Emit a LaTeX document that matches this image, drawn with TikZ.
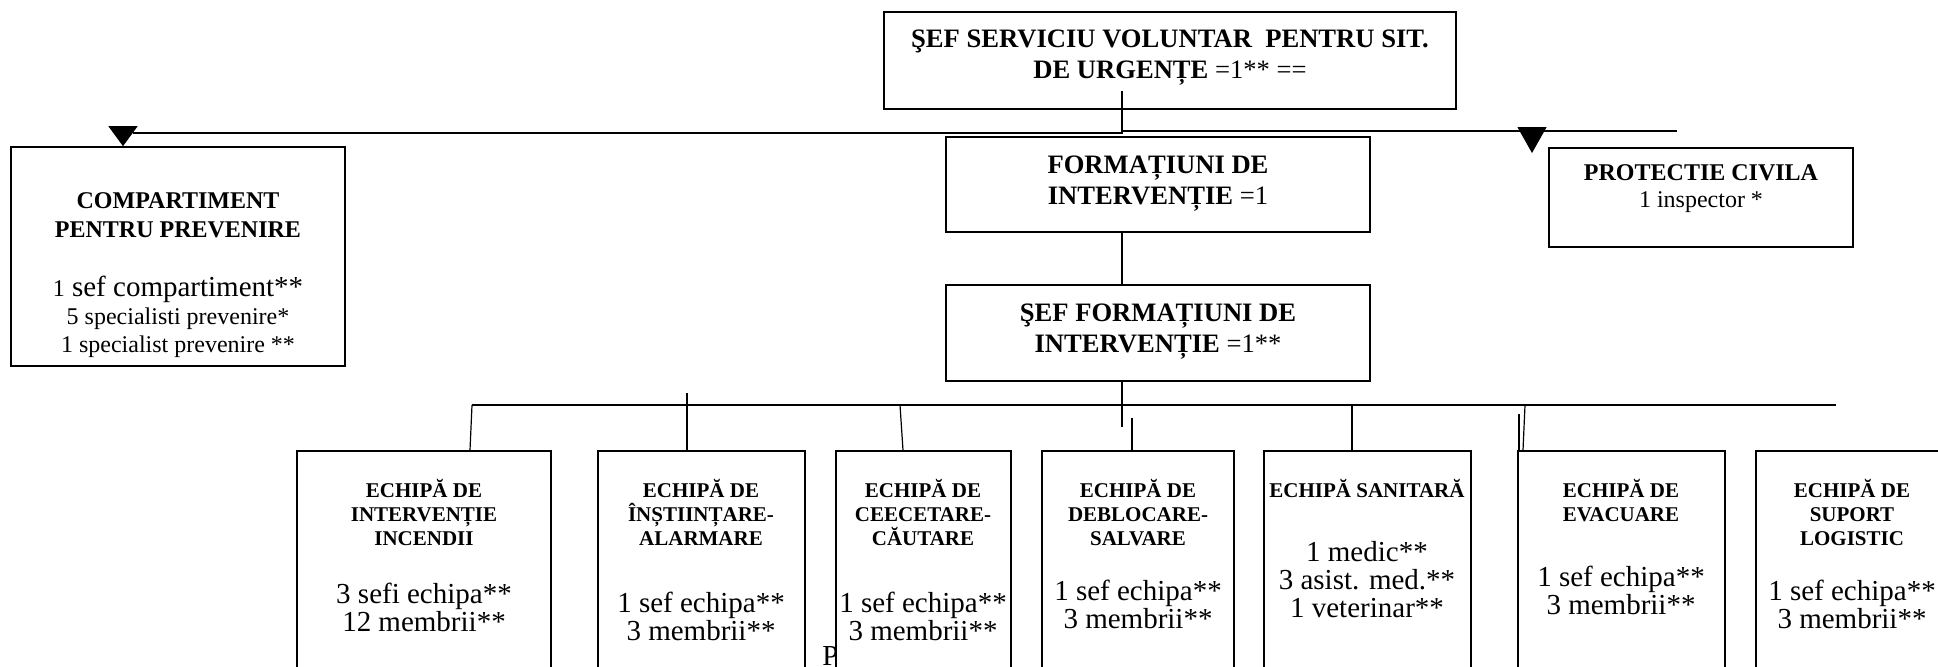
\documentclass[tikz,border=0pt]{standalone}
\usepackage{fontspec}
\setmainfont{Liberation Serif}
\usetikzlibrary{arrows.meta, positioning, fit}

\begin{document}
\begin{tikzpicture}[x=0.5pt, y=-0.5pt,
	box/.style={draw, line width=0.8pt, fill=white, inner sep=0pt},
	link/.style={line width=0.6pt},
	drop/.style={link, -{Triangle[width=14.5pt, length=#1]}},
	bighead/.style={anchor=base, align=center, inner sep=0pt, font=\fontsize{13.3}{15.5}\selectfont},
	head/.style={anchor=base, align=center, inner sep=0pt, font=\fontsize{12}{14.5}\selectfont},
	teamhead/.style={anchor=base, align=center, inner sep=0pt, font=\bfseries\fontsize{10.5}{12}\selectfont},
	members/.style={anchor=base, align=center, inner sep=0pt, font=\fontsize{14.5}{14}\selectfont}]
	\useasboundingbox (0,0) rectangle (1938,666);
	\clip (0,0) rectangle (1938,666);

	\node[members, anchor=base west] (stray) at (822,665) {P};

	\node[box, fit={(884,12) (1456,109)}] (sefsvsu) {};
	\node[box, fit={(11,147) (345,366)}] (prev) {};
	\node[box, fit={(946,137) (1370,232)}] (form) {};
	\node[box, fit={(946,285) (1370,381)}] (sefform) {};
	\node[box, fit={(1549,148) (1853,247)}] (pc) {};
	\node[box, fit={(297,451) (551,720)}] (incendii) {};
	\node[box, fit={(598,451) (805,720)}] (alarm) {};
	\node[box, fit={(836,451) (1011,720)}] (cautare) {};
	\node[box, fit={(1042,451) (1234,720)}] (salvare) {};
	\node[box, fit={(1264,451) (1471,720)}] (sanitara) {};
	\node[box, fit={(1518,451) (1725,720)}] (evac) {};
	\node[box, fit={(1756,451) (1948,720)}] (logistic) {};

	\node[bighead] (sefsvsu-t) at (1170,78) {\textbf{ŞEF SERVICIU VOLUNTAR\ \ PENTRU SIT.}\\\textbf{DE URGENȚE} =1** ==};
	\node[bighead] (form-t) at (1158,204) {\textbf{FORMAȚIUNI DE}\\\textbf{INTERVENȚIE} =1};
	\node[bighead] (sefform-t) at (1158,352) {\textbf{ŞEF FORMAȚIUNI DE}\\\textbf{INTERVENȚIE} =1**};
	\node[head, font=\bfseries\fontsize{12}{14.5}\selectfont] (prev-t) at (178,237) {COMPARTIMENT\\PENTRU PREVENIRE};
	\node[members] (prev-m1) at (178,296) {{\fontsize{12}{14}\selectfont 1} sef compartiment**};
	\node[head, font=\fontsize{12}{14}\selectfont] (prev-m2) at (178,352) {5 specialisti prevenire*\\1 specialist prevenire **};
	\node[head, font=\fontsize{12}{13.5}\selectfont] (pc-t) at (1701,207) {\textbf{PROTECTIE CIVILA}\\1 inspector *};

	\node[teamhead] (incendii-t) at (424,545) {ECHIPĂ DE\\INTERVENȚIE\\INCENDII};
	\node[members] (incendii-m) at (424,631) {3 sefi echipa**\\12 membrii**};
	\node[teamhead] (alarm-t) at (701,545) {ECHIPĂ DE\\ÎNȘTIINȚARE-\\ALARMARE};
	\node[members] (alarm-m) at (701,640) {1 sef echipa**\\3 membrii**};
	\node[teamhead] (cautare-t) at (923,545) {ECHIPĂ DE\\CEECETARE-\\CĂUTARE};
	\node[members] (cautare-m) at (923,640) {1 sef echipa**\\3 membrii**};
	\node[teamhead] (salvare-t) at (1138,545) {ECHIPĂ DE\\DEBLOCARE-\\SALVARE};
	\node[members] (salvare-m) at (1138,628) {1 sef echipa**\\3 membrii**};
	\node[teamhead] (sanitara-t) at (1367,497) {ECHIPĂ SANITARĂ};
	\node[members] (sanitara-m) at (1367,617) {1 medic**\\3 asist. med.**\\1 veterinar**};
	\node[teamhead] (evac-t) at (1621,521) {ECHIPĂ DE\\EVACUARE};
	\node[members] (evac-m) at (1621,614) {1 sef echipa**\\3 membrii**};
	\node[teamhead] (logistic-t) at (1852,545) {ECHIPĂ DE\\SUPORT\\LOGISTIC};
	\node[members] (logistic-m) at (1852,628) {1 sef echipa**\\3 membrii**};

	\coordinate (top-in) at (1122,91);
	\coordinate (lft) at (133,133);
	\coordinate (rgt) at (1677,131);
	\coordinate (la) at (123,127);
	\coordinate (ra) at (1532,127);
	\coordinate (rt) at (1532,153);
	\draw[link] (top-in) -- (top-in |- lft) -- (lft);
	\draw[link] (top-in |- rgt) -- (rgt);
	\draw[drop=10pt] (la) -- (la |- prev.north);
	\draw[drop=13pt] (ra) -- (rt);
	\draw[link] (top-in |- form.south) -- (top-in |- sefform.north);

	\coordinate (down) at (1122,427);
	\coordinate (bus-l) at (472,405);
	\coordinate (bus-r) at (1836,405);
	\coordinate (s2) at (687,393);
	\coordinate (s3) at (900,405);
	\coordinate (s4) at (1132,418);
	\coordinate (s5) at (1352,405);
	\coordinate (s6) at (1525,405);
	\coordinate (s6b) at (1519,414);
	\draw[link] (top-in |- sefform.south) -- (down);
	\draw[link] (bus-l) -- (bus-r);
	\draw[link] (bus-l) -- ([xshift=-1pt]bus-l |- incendii.north);
	\draw[link] (s2) -- (s2 |- alarm.north);
	\draw[link] (s3) -- ([xshift=1.5pt]s3 |- cautare.north);
	\draw[link] (s4) -- (s4 |- salvare.north);
	\draw[link] (s5) -- (s5 |- sanitara.north);
	\draw[link] (s6) -- ([xshift=-1pt]s6 |- evac.north);
	\draw[link] (s6b) -- (s6b |- evac.north);
\end{tikzpicture}
\end{document}
